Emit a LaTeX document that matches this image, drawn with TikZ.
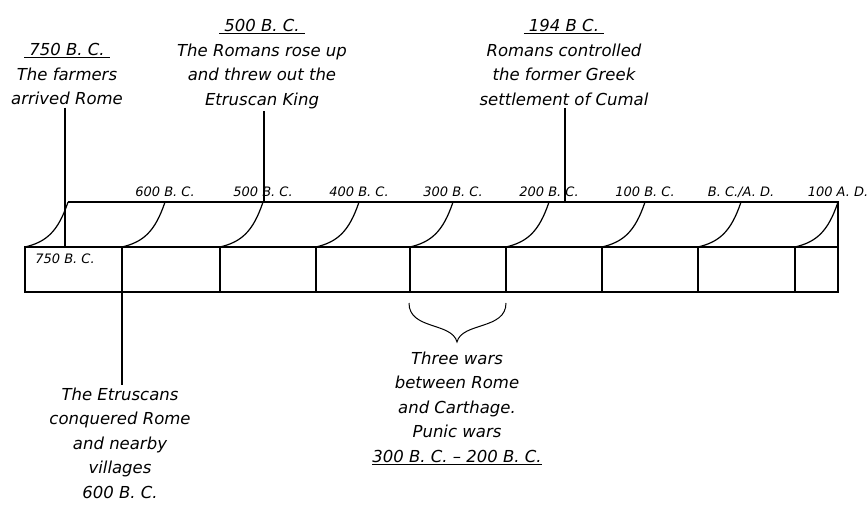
\documentclass[tikz,border=0pt]{standalone}
\usepackage{fontspec}
\setmainfont{DejaVu Sans}
\usetikzlibrary{positioning}

\newcommand{\headline}[1]{\underline{\hspace{5pt}#1\hspace{5pt}}}

\tikzset{
  bigtext/.style={align=center, inner sep=2pt, font=\fontsize{16.5}{24.5}\selectfont\itshape},
  smalltext/.style={inner sep=0pt, font=\fontsize{13}{15}\selectfont\itshape},
}

\begin{document}
\begin{tikzpicture}[x=1pt, y=-1pt, line width=1.2pt]
    \useasboundingbox (0,0) rectangle (868,505);
    \pgfmathsetmacro{\ytop}{202}
    \pgfmathsetmacro{\yfront}{247}
    \pgfmathsetmacro{\ybot}{292}
    \pgfmathsetmacro{\depth}{43}

    % front face of the timeline
    \foreach \x [count=\i from 0] in {25,122,220,316,410,506,602,698,795,838} {
        \coordinate (F\i) at (\x,\yfront);
        \coordinate (B\i) at (\x,\ybot);
        \coordinate (T\i) at (\x+\depth,\ytop);
    }

    \draw (F0) -- (F9) -- (B9) -- (B0) -- cycle;
    \foreach \i in {1,...,8}
        \draw (F\i) -- (B\i);

    % back edge and the curved slats
    \draw (T0) -- (F9 |- T0) -- (B9);
    \foreach \i in {0,...,8}
        \draw (T\i) .. controls +(-10,30) and +(21,-5) .. (F\i);

    % dates on the back edge
    \foreach \lab [count=\i] in {600 B. C., 500 B. C., 400 B. C., 300 B. C., 200 B. C., 100 B. C., B. C./A. D., 100 A. D.}
        \node[smalltext, anchor=base, yshift=5pt] (date\i) at (T\i) {\lab};

    \node[smalltext, anchor=base] (date0) at (65,264) {750 B. C.};

    % events
    \node[bigtext, anchor=north] (farmers) at (67,41)
        {\headline{750 B. C.}\\ The farmers\\ arrived Rome};
    \node[bigtext, anchor=north] (romans) at (262,17)
        {\headline{500 B. C.}\\ The Romans rose up\\ and threw out the\\ Etruscan King};
    \node[bigtext, anchor=north] (cumal) at (564,17)
        {\headline{194 B C.}\\ Romans controlled\\ the former Greek\\ settlement of Cumal};
    \node[bigtext, anchor=north] (etruscans) at (120,385)
        {The Etruscans\\ conquered Rome\\ and nearby\\ villages\\ 600 B. C.};
    \node[bigtext, anchor=north] (punic) at (457,349)
        {Three wars\\ between Rome\\ and Carthage.\\ Punic wars\\ \underline{300 B. C. -- 200 B. C.}};

    \coordinate (P750) at (65,\yfront);
    \coordinate (P500) at (264,\ytop);
    \coordinate (P194) at (565,\ytop);

    \draw (P750 |- farmers.south) -- (P750);
    \draw (P500 |- romans.south) -- (P500);
    \draw (P194 |- cumal.south) -- (P194);
    \draw (B1) -- (B1 |- etruscans.north);

    % brace under the Punic wars
    \coordinate (BrL) at (409,303);
    \coordinate (BrTip) at (457,342);
    \coordinate (BrR) at (506,303);
    \draw[line width=1pt] (BrL) .. controls +(0,27) and +(-5,-20) .. (BrTip)
        .. controls +(5,-20) and +(0,27) .. (BrR);

\end{tikzpicture}
\end{document}
